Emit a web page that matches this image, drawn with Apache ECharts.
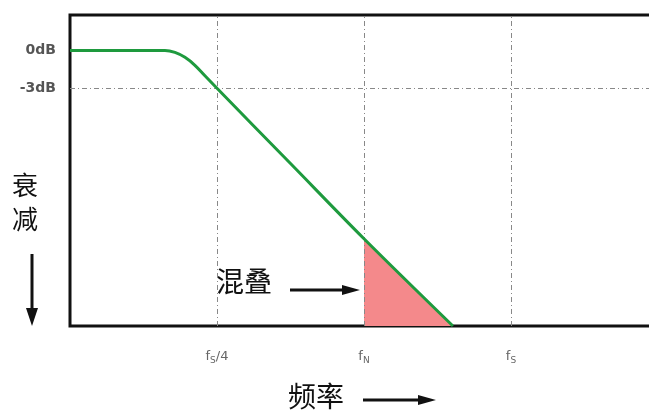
<!DOCTYPE html>
<html><head><meta charset="utf-8">
<script src="https://cdn.jsdelivr.net/npm/echarts@6/dist/echarts.min.js"></script>
<style>html,body{margin:0;padding:0;background:#fff}#c{width:649px;height:412px}</style>
</head><body><div id="c"></div>
<script>
// frequency in units of fs/4; attenuation in dB
const xTicks = [1, 2, 3];
const xTickLabels = ['{f|f}{s|S}{f|/4}', '{f|f}{s|N}', '{f|f}{s|S}'];
const yTicks = [0, -3];
const yTickLabels = ['0dB', '-3dB'];
const curveX = [0, 0.3, 0.646, 0.714, 0.782, 0.85, 0.918, 1.0, 1.5, 2.0, 2.605];
const curveY = [0, 0, 0, -0.16, -0.55, -1.18, -2.01, -3.0, -8.95, -14.9, -21.8];
const aliasX = [2.0, 2.605];
const aliasY = [-14.9, -21.8];

const chart = echarts.init(document.getElementById('c'));
const cjk = '"Noto Sans CJK SC", sans-serif';
chart.setOption({
  animation: false,
  grid: {left: 70, top: 15, width: 588, height: 311, outerBoundsMode: 'none', containLabel: false,
    show: true, borderColor: '#111', borderWidth: 3, backgroundColor: 'transparent'},
  xAxis: {type: 'value', min: 0, max: 4,
    axisLine: {show: false}, axisTick: {show: false}, splitLine: {show: false},
    axisLabel: {show: true, customValues: xTicks, margin: 23,
      formatter: v => xTickLabels[xTicks.indexOf(v)] || '',
      rich: {f: {fontSize: 13, color: '#666', fontFamily: 'DejaVu Sans'}, s: {fontSize: 9, color: '#666', padding: [7, 0, 0, 0], fontFamily: 'DejaVu Sans'}}}
  },
  yAxis: {type: 'value', min: -21.8, max: 2.8,
    axisLine: {show: false}, axisTick: {show: false}, splitLine: {show: false},
    axisLabel: {show: true, customValues: yTicks, margin: 14, color: '#555', fontSize: 14, fontWeight: 'bold', fontFamily: 'DejaVu Sans',
      padding: [0, 0, 8, 0],
      formatter: v => yTickLabels[yTicks.indexOf(v)] || ''}
  },
  series: [
    {type: 'line', data: aliasX.map((x, i) => [x, aliasY[i]]), symbol: 'none',
      lineStyle: {width: 0}, areaStyle: {color: '#f4898b', opacity: 1, origin: 'start'}, z: 2},
    {type: 'line', data: curveX.map((x, i) => [x, curveY[i]]), symbol: 'none', smooth: 0.35,
      lineStyle: {color: '#1e9a3e', width: 3}, z: 5,
      markLine: {silent: true, symbol: 'none', label: {show: false},
        lineStyle: {color: '#888', width: 1, type: [5, 3, 1, 3]},
        data: [{xAxis: 1}, {xAxis: 2}, {xAxis: 3}, {yAxis: -3}]}}
  ],
  graphic: [
    {type: 'text', left: 12, top: 168, style: {text: '衰\n减', font: '26px ' + cjk, lineHeight: 34, fill: '#111'}},
    {type: 'line', shape: {x1: 32, y1: 254, x2: 32, y2: 312}, style: {stroke: '#111', lineWidth: 3}},
    {type: 'polygon', shape: {points: [[26, 308], [38, 308], [32, 326]]}, style: {fill: '#111'}},
    {type: 'text', left: 216, top: 267, style: {text: '混叠', font: '28px ' + cjk, fill: '#111'}},
    {type: 'line', shape: {x1: 290, y1: 290, x2: 346, y2: 290}, style: {stroke: '#111', lineWidth: 3}},
    {type: 'polygon', shape: {points: [[342, 285], [342, 295], [360, 290]]}, style: {fill: '#111'}},
    {type: 'text', left: 288, top: 382, style: {text: '频率', font: '28px ' + cjk, fill: '#111'}},
    {type: 'line', shape: {x1: 363, y1: 400, x2: 420, y2: 400}, style: {stroke: '#111', lineWidth: 3}},
    {type: 'polygon', shape: {points: [[418, 395], [418, 405], [436, 400]]}, style: {fill: '#111'}}
  ]
});
</script></body></html>
